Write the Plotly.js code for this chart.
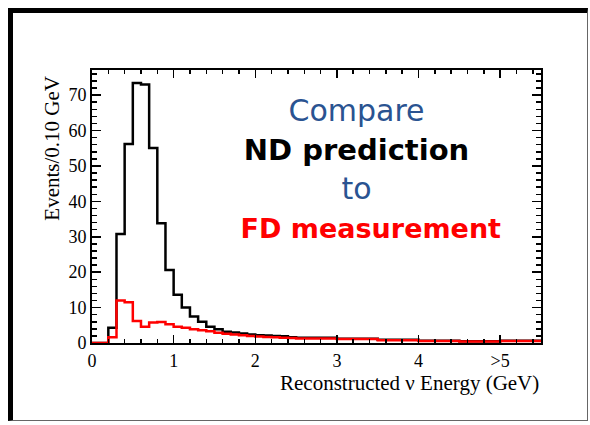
<!DOCTYPE html>
<html>
<head>
<meta charset="utf-8">
<script src="https://cdn.plot.ly/plotly-3.0.1.min.js"></script>
<style>
  html, body { margin: 0; padding: 0; background: #fff; }
  #wrap { position: relative; width: 590px; height: 425px; overflow: hidden; }
  #chart { position: absolute; left: 0; top: 0; width: 590px; height: 425px; }
  #frame {
    position: absolute; left: 8px; top: 8px; width: 574px; height: 407px;
    border-left: 5px solid #000; border-top: 5px solid #000;
    border-right: 1px solid #666; border-bottom: 1px solid #666;
    pointer-events: none;
  }
</style>
</head>
<body>
<div id="wrap">
  <div id="chart"></div>
  <div id="frame"></div>
</div>
<script>
// Bin edges in reconstructed neutrino energy (GeV): 0.1 GeV bins up to 2.5, 0.5 GeV bins above
const binEdges = [0.0, 0.1, 0.2, 0.3, 0.4, 0.5, 0.6, 0.7, 0.8, 0.9,
                  1.0, 1.1, 1.2, 1.3, 1.4, 1.5, 1.6, 1.7, 1.8, 1.9,
                  2.0, 2.1, 2.2, 2.3, 2.4, 2.5, 3.0, 3.5, 4.0, 4.5, 5.0, 5.5];

// Near-detector based prediction, events / 0.10 GeV
const ndPrediction = [0, 0, 4.3, 30.8, 56.2, 73.4, 73.0, 55.1, 33.8, 20.6,
                      13.6, 10.0, 7.5, 6.0, 4.6, 3.9, 3.2, 3.0, 2.7, 2.4,
                      2.2, 2.1, 2.0, 1.9, 1.6, 1.5, 1.2, 0.9, 0.65, 0.5, 0.65];

// Far-detector measurement, events / 0.10 GeV
const fdMeasurement = [0, 0, 1.6, 12.0, 11.5, 6.2, 4.6, 5.8, 5.9, 5.3,
                       4.6, 4.3, 3.9, 3.6, 3.3, 2.9, 2.6, 2.4, 2.2, 2.0,
                       1.85, 1.7, 1.6, 1.5, 1.4, 1.3, 1.1, 0.8, 0.55, 0.4, 0.6];

const xTickVals = [0, 1, 2, 3, 4, 5];
const xTickText = ['0', '1', '2', '3', '4', '>5'];

const xTitle = 'Reconstructed \u03bd Energy (GeV)';
const yTitle = 'Events/0.10 GeV';

// Headline block, one entry per line
const headline = [
  {text: 'Compare', color: '#2a5391', bold: false, size: 30, indent: 0},
  {text: 'ND prediction', color: '#000000', bold: true, size: 29, indent: 0},
  {text: 'to', color: '#2a5391', bold: false, size: 30, indent: 0},
  {text: 'FD measurement', color: '#ff0000', bold: true, size: 27, indent: 3}
];

// Step outline: one point per left edge, last value repeated at the final edge
function stepY(vals) { return vals.concat([vals[vals.length - 1]]); }

const serif = 'Liberation Serif, Times New Roman, serif';

const traces = [
  {x: binEdges, y: stepY(ndPrediction), type: 'scatter', mode: 'lines',
   line: {shape: 'hv', color: '#000000', width: 2.5}, hoverinfo: 'skip'},
  {x: binEdges, y: stepY(fdMeasurement), type: 'scatter', mode: 'lines',
   line: {shape: 'hv', color: '#ff0000', width: 2.5}, hoverinfo: 'skip'}
];

const axisCommon = {
  ticks: 'inside', tickcolor: '#000', tickwidth: 1.5,
  showline: true, linecolor: '#000', linewidth: 2, mirror: 'allticks',
  showgrid: false, zeroline: false,
  tickfont: {family: serif, size: 18, color: '#000'}
};

const headlineHtml = headline.map(h => {
  const body = h.bold ? '<b>' + h.text + '</b>' : h.text;
  return '&nbsp;'.repeat(h.indent) +
    '<span style="color:' + h.color + ';font-size:' + h.size + 'px">' + body + '</span>';
}).join('<br>');

const annotations = [
  {
    xref: 'paper', yref: 'paper', x: 0.588, y: 0.638,
    xanchor: 'center', yanchor: 'middle', align: 'center', showarrow: false,
    text: headlineHtml,
    font: {family: 'DejaVu Sans, sans-serif', size: 30, color: '#000'}
  },
  {
    xref: 'paper', yref: 'paper', x: 1.0, y: -0.145,
    xanchor: 'right', yanchor: 'middle', showarrow: false,
    text: xTitle, font: {family: serif, size: 21, color: '#000'}
  },
  {
    xref: 'paper', yref: 'paper', x: -0.089, y: 0.985,
    xanchor: 'center', yanchor: 'top', showarrow: false, textangle: -90,
    text: yTitle, font: {family: serif, size: 21, color: '#000'}
  }
];

const layout = {
  width: 590, height: 425,
  margin: {l: 92, r: 49, t: 70, b: 82},
  paper_bgcolor: '#ffffff', plot_bgcolor: '#ffffff',
  showlegend: false,
  xaxis: Object.assign({}, axisCommon, {
    range: [0, 5.5], tickmode: 'array', tickvals: xTickVals, ticktext: xTickText,
    ticklen: 8,
    minor: {tickmode: 'linear', tick0: 0, dtick: 0.2, ticks: 'inside', ticklen: 4,
            tickcolor: '#000', tickwidth: 1.5}
  }),
  yaxis: Object.assign({}, axisCommon, {
    range: [0, 77.1], tickmode: 'linear', tick0: 0, dtick: 10,
    ticklen: 9,
    minor: {tickmode: 'linear', tick0: 0, dtick: 2, ticks: 'inside', ticklen: 5,
            tickcolor: '#000', tickwidth: 1.5}
  }),
  annotations: annotations
};

Plotly.newPlot('chart', traces, layout, {staticPlot: true, displayModeBar: false});
</script>
</body>
</html>
